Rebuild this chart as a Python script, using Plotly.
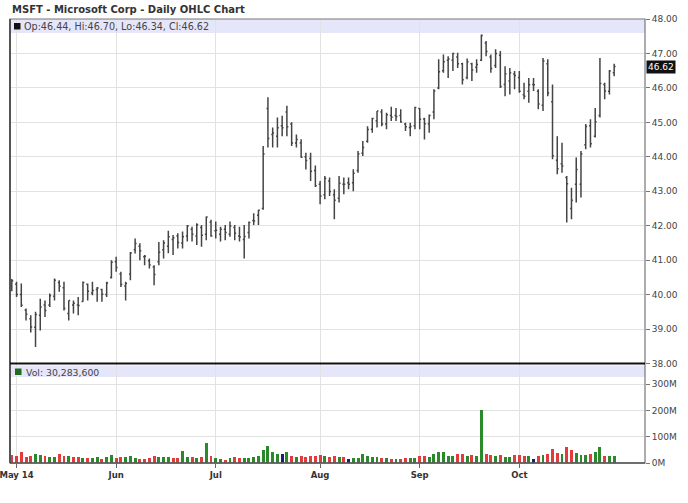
import plotly.graph_objects as go
import pandas as pd

# ---------------- data ----------------
trading_days = pd.bdate_range("2014-04-30", "2014-10-29", freq="C",
                              holidays=["2014-05-26", "2014-07-04", "2014-09-01"])
dates = [d.strftime("%Y-%m-%d") for d in trading_days]

month_labels = ["May 14", "Jun", "Jul", "Aug", "Sep", "Oct"]
month_keys = ["2014-05", "2014-06", "2014-07", "2014-08", "2014-09", "2014-10"]

opens = [40.25, 40.30, 40.00, 39.55, 39.30, 39.05, 39.40, 39.70, 39.70, 39.95,
         40.35, 40.20, 39.45, 39.70, 39.70, 39.80, 40.30, 40.05, 40.15, 40.15,
         40.00, 40.50, 40.95, 40.60, 40.25, 40.60, 41.30, 41.40, 41.10, 40.98,
         40.80, 40.95, 41.30, 41.40, 41.60, 41.70, 41.50, 41.70, 41.90, 41.70,
         41.95, 41.75, 42.10, 41.85, 41.75, 41.90, 41.75, 41.95, 41.70, 41.60,
         41.80, 42.15, 42.30, 42.50, 45.40, 44.65, 44.60, 44.90, 45.30, 44.95,
         44.40, 44.40, 44.00, 43.95, 43.60, 43.20, 42.90, 43.30, 42.90, 42.80,
         43.20, 43.25, 43.25, 43.60, 44.10, 44.45, 44.80, 45.05, 45.30, 44.95,
         45.20, 45.20, 45.20, 44.95, 44.85, 44.90, 45.40, 45.10, 44.95, 45.30,
         46.00, 46.50, 46.80, 46.80, 46.90, 46.70, 46.30, 46.70, 46.60, 46.80,
         47.30, 46.90, 46.65, 46.95, 46.10, 46.20, 46.40, 46.30, 45.80, 45.90,
         46.10, 45.90, 45.50, 46.70, 45.60, 43.90, 43.80, 43.40, 42.50, 43.20,
         43.20, 44.35, 44.90, 44.60, 45.20, 46.10, 45.90, 46.44]
highs = [40.45, 40.37, 40.32, 39.60, 39.40, 39.50, 39.88, 39.83, 40.03, 40.47,
         40.42, 40.37, 39.83, 39.83, 39.93, 40.38, 40.32, 40.37, 40.22, 40.17,
         40.37, 41.00, 41.10, 40.66, 40.37, 41.24, 41.63, 41.49, 41.15, 41.05,
         40.85, 41.53, 41.58, 41.85, 41.73, 41.78, 41.83, 42.02, 41.97, 42.07,
         42.02, 42.27, 42.17, 42.12, 41.97, 42.02, 42.12, 42.02, 41.97, 42.02,
         42.12, 42.36, 42.46, 44.31, 45.73, 44.85, 45.14, 45.19, 45.48, 45.00,
         44.65, 44.51, 44.12, 44.12, 43.75, 43.30, 43.44, 43.40, 43.06, 43.44,
         43.40, 43.40, 43.64, 44.17, 44.46, 44.89, 45.13, 45.33, 45.38, 45.28,
         45.45, 45.42, 45.38, 44.99, 44.99, 45.45, 45.42, 45.13, 45.23, 45.96,
         46.83, 46.97, 46.92, 47.02, 47.02, 46.73, 46.85, 46.73, 46.83, 47.55,
         47.36, 46.97, 47.12, 47.07, 46.63, 46.58, 46.49, 46.49, 46.15, 46.29,
         46.29, 45.96, 46.87, 46.83, 46.10, 44.60, 44.41, 43.44, 43.10, 43.98,
         44.17, 44.95, 45.09, 45.42, 46.87, 46.15, 46.52, 46.70]
lows = [40.10, 39.93, 39.64, 39.25, 38.90, 38.48, 38.96, 39.35, 39.64, 39.83,
        40.08, 39.54, 39.25, 39.45, 39.40, 39.79, 39.83, 39.98, 39.79, 39.79,
        39.93, 40.47, 40.66, 40.22, 39.83, 40.42, 41.19, 41.00, 40.85, 40.76,
        40.27, 40.85, 41.05, 41.20, 41.15, 41.34, 41.34, 41.54, 41.54, 41.44,
        41.39, 41.58, 41.68, 41.63, 41.54, 41.58, 41.68, 41.58, 41.54, 41.05,
        41.63, 42.02, 42.02, 42.46, 44.27, 44.27, 44.27, 44.60, 44.60, 44.31,
        44.27, 43.97, 43.63, 43.30, 43.12, 42.62, 42.77, 42.86, 42.19, 42.67,
        42.91, 43.06, 43.00, 43.54, 44.02, 44.41, 44.70, 44.85, 44.89, 44.80,
        45.04, 45.04, 44.99, 44.75, 44.60, 44.80, 44.80, 44.50, 44.70, 45.09,
        45.96, 46.44, 46.29, 46.49, 46.58, 46.10, 46.25, 46.20, 46.44, 46.78,
        46.92, 46.44, 46.58, 46.00, 45.76, 45.81, 45.96, 45.86, 45.67, 45.57,
        45.91, 45.38, 45.33, 45.76, 43.93, 43.49, 43.54, 42.09, 42.19, 42.67,
        42.82, 44.22, 44.27, 44.56, 45.14, 45.67, 45.81, 46.34]
closes = [40.40, 40.00, 39.69, 39.43, 39.06, 39.42, 39.64, 39.54, 39.97, 40.42,
          40.24, 39.60, 39.83, 39.75, 39.68, 40.35, 40.10, 40.12, 40.19, 40.01,
          40.34, 40.94, 40.79, 40.29, 40.32, 41.21, 41.48, 41.27, 41.11, 40.86,
          40.58, 41.23, 41.50, 41.68, 41.65, 41.51, 41.68, 41.99, 41.75, 42.03,
          41.72, 42.25, 41.70, 41.87, 41.90, 41.80, 41.99, 41.78, 41.67, 41.69,
          42.09, 42.14, 42.45, 44.08, 44.53, 44.69, 44.84, 44.84, 44.87, 44.40,
          44.50, 43.99, 43.89, 43.58, 43.16, 42.86, 43.37, 42.99, 42.74, 43.23,
          43.20, 43.20, 43.52, 44.08, 44.27, 44.79, 45.11, 45.33, 44.95, 45.22,
          45.15, 45.17, 45.01, 44.87, 44.88, 45.43, 45.09, 44.96, 45.20, 45.91,
          46.47, 46.76, 46.84, 47.00, 46.70, 46.24, 46.76, 46.52, 46.68, 47.52,
          47.06, 46.56, 47.00, 46.04, 46.41, 46.44, 46.36, 45.90, 45.76, 46.09,
          46.09, 45.53, 46.78, 45.85, 44.03, 43.65, 43.73, 43.22, 42.74, 43.63,
          44.08, 44.88, 44.38, 45.02, 46.13, 45.91, 46.49, 46.62]
prev_close = 40.51  # close of the session before the first bar

volumes_m = [34, 28, 42, 26, 27, 38, 32, 27, 25, 24,
             35, 30, 27, 26, 25, 22, 20, 22, 25, 18,
             24, 33, 22, 24, 23, 27, 22, 16, 18, 20,
             30, 26, 25, 24, 22, 20, 48, 26, 24, 22,
             26, 78, 28, 20, 18, 15, 22, 25, 20, 22,
             20, 24, 28, 52, 66, 43, 38, 35, 42, 28,
             24, 27, 26, 30, 30, 34, 27, 23, 30, 25,
             23, 18, 20, 22, 35, 28, 24, 25, 22, 20,
             16, 16, 18, 22, 20, 20, 28, 30, 24, 38,
             42, 45, 30, 27, 38, 38, 28, 32, 30, 202,
             37, 33, 28, 32, 26, 24, 31, 32, 28, 28,
             18, 30, 32, 38, 56, 40, 38, 62, 50, 40,
             32, 33, 37, 45, 61, 30, 30, 30.2836]

price_ticks = [38, 39, 40, 41, 42, 43, 44, 45, 46, 47, 48]
vol_ticks = [0, 100, 200, 300]
vol_tick_labels = ["0M", "100M", "200M", "300M"]

# ---------------- derived ----------------
xs = list(range(len(dates)))
month_pos = [next(i for i, d in enumerate(dates) if d.startswith(k)) for k in month_keys]

GREEN, RED, BLUE = "#2a8a2a", "#e23b3b", "#1c1c7a"
vol_colors = []
last = prev_close
for c in closes:
    vol_colors.append(GREEN if c > last else (RED if c < last else BLUE))
    last = c

# pixel helpers for layout (plot area: x 10..645, y 19..463)
L_M, R_M, T_M, B_M = 10, 43, 19, 40
W, H = 688, 503
PW, PH = W - L_M - R_M, H - T_M - B_M


def px_x(p):
    return (p - L_M) / PW


def px_y(p):
    return (H - B_M - p) / PH


split = px_y(363.5)
FONT = "DejaVu Sans, Verdana, sans-serif"

fig = go.Figure()
fig.add_trace(go.Ohlc(
    x=xs, open=opens, high=highs, low=lows, close=closes,
    increasing=dict(line=dict(color="#444444", width=1.5)),
    decreasing=dict(line=dict(color="#444444", width=1.5)),
    tickwidth=0.3, xaxis="x", yaxis="y", showlegend=False,
    text=dates, hoverinfo="text+y"))
fig.add_trace(go.Bar(
    x=xs, y=volumes_m, width=0.62,
    marker=dict(color=vol_colors, line=dict(width=0)),
    xaxis="x", yaxis="y2", showlegend=False))

grid = "#e2e2e2"
fig.update_layout(
    width=W, height=H,
    margin=dict(l=L_M, r=R_M, t=T_M, b=B_M, autoexpand=False),
    paper_bgcolor="white", plot_bgcolor="white",
    font=dict(family=FONT, size=9, color="#333"),
    bargap=0,
    xaxis=dict(domain=[0, 1], range=[-0.38, 133.5], anchor="y2",
               tickmode="array", tickvals=month_pos, ticktext=month_labels,
               tickfont=dict(family=FONT, size=8.5, color="#333", weight="bold"),
               ticklabeloverflow="allow",
               showgrid=True, gridcolor=grid, gridwidth=1,
               ticks="outside", ticklen=4, tickcolor="#666",
               zeroline=False, showline=False,
               rangeslider=dict(visible=False), automargin=False),
    yaxis=dict(domain=[split, 1], range=[38, 48], anchor="x", side="right",
               tickmode="array", tickvals=price_ticks,
               tickformat=".2f", showgrid=True, gridcolor=grid,
               ticks="outside", ticklen=4, tickcolor="#777",
               ticklabeloverflow="allow",
               tickfont=dict(family=FONT, size=9, color="#444"),
               zeroline=False, showline=False, automargin=False),
    yaxis2=dict(domain=[0, split], range=[0, 378], anchor="x", side="right",
                tickmode="array", tickvals=vol_ticks, ticktext=vol_tick_labels,
                showgrid=True, gridcolor=grid,
                ticks="outside", ticklen=4, tickcolor="#777",
                ticklabeloverflow="allow",
                tickfont=dict(family=FONT, size=9, color="#444"),
                zeroline=False, showline=False, automargin=False),
)

shapes = [
    # header bands
    dict(type="rect", xref="paper", yref="paper", x0=0, x1=1,
         y0=px_y(33), y1=1, fillcolor="#e6e6fa", line=dict(width=0), layer="between"),
    dict(type="rect", xref="paper", yref="paper", x0=0, x1=1,
         y0=px_y(377), y1=px_y(365.5), fillcolor="#e6e6fa", line=dict(width=0), layer="between"),
    # frames
    dict(type="rect", xref="paper", yref="paper", x0=0, x1=1, y0=0, y1=1,
         line=dict(color="#777", width=1.2), layer="above"),
    dict(type="line", xref="paper", yref="paper", x0=0, x1=0, y0=0, y1=1,
         line=dict(color="#555", width=2), layer="above"),
    dict(type="line", xref="paper", yref="paper", x0=0, x1=1, y0=0, y1=0,
         line=dict(color="#555", width=1.5), layer="above"),
    # separator
    dict(type="line", xref="paper", yref="paper", x0=0, x1=1, y0=split, y1=split,
         line=dict(color="#111", width=2), layer="above"),
    # legend squares
    dict(type="rect", xref="paper", yref="paper", x0=px_x(14), x1=px_x(20.5),
         y0=px_y(29.5), y1=px_y(23), fillcolor="#111", line=dict(width=0), layer="above"),
    dict(type="rect", xref="paper", yref="paper", x0=px_x(15), x1=px_x(21.5),
         y0=px_y(375), y1=px_y(368.5), fillcolor="#1f6b1f", line=dict(width=0), layer="above"),
]
fig.update_layout(shapes=shapes)

last_i = len(closes) - 1
annotations = [
    dict(text="MSFT - Microsoft Corp - Daily OHLC Chart", xref="paper", yref="paper",
         x=px_x(10), y=px_y(9), xanchor="left", yanchor="middle", showarrow=False,
         font=dict(family=FONT, size=10, color="#333", weight="bold")),
    dict(text=f"Op:{opens[last_i]:.2f}, Hi:{highs[last_i]:.2f}, Lo:{lows[last_i]:.2f}, Cl:{closes[last_i]:.2f}",
         xref="paper", yref="paper", x=px_x(22), y=px_y(26.5), xanchor="left",
         yanchor="middle", showarrow=False, font=dict(family=FONT, size=9.6, color="#444")),
    dict(text=f"Vol: {round(volumes_m[last_i] * 1e6):,}",
         xref="paper", yref="paper", x=px_x(24), y=px_y(372), xanchor="left",
         yanchor="middle", showarrow=False, font=dict(family=FONT, size=9.3, color="#444")),
    dict(text=f"{closes[last_i]:.2f}", xref="paper", yref="y", x=1, y=closes[last_i],
         xanchor="left", yanchor="middle", xshift=1, showarrow=False,
         bgcolor="#111", borderpad=1, font=dict(family=FONT, size=9, color="white")),
]
fig.update_layout(annotations=annotations)

fig.write_html("out.html", config={"displayModeBar": False},
               post_script="document.body.style.margin='0';document.body.style.overflow='hidden';")
